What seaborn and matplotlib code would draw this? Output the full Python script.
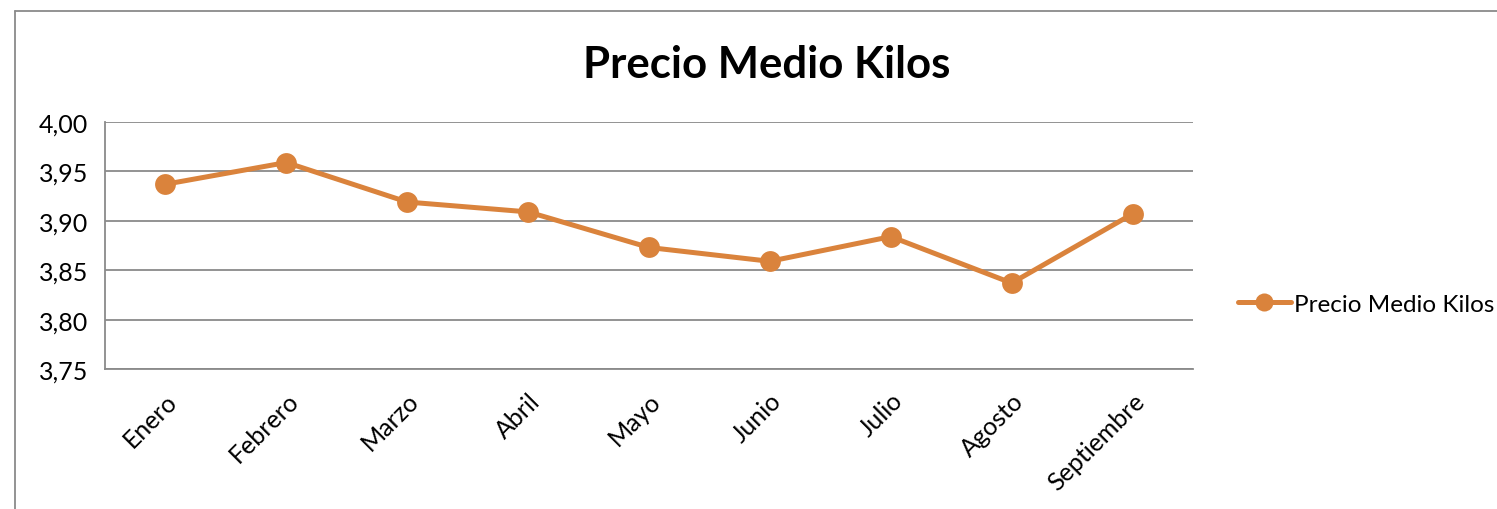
import matplotlib
matplotlib.use("Agg")
import matplotlib.pyplot as plt
from matplotlib.lines import Line2D
import seaborn as sns
import pandas as pd

meses = ["Enero", "Febrero", "Marzo", "Abril", "Mayo", "Junio", "Julio", "Agosto", "Septiembre"]
precio = [3.937, 3.959, 3.919, 3.909, 3.873, 3.859, 3.884, 3.837, 3.907]
yticks = [3.75, 3.80, 3.85, 3.90, 3.95, 4.00]
serie = "Precio Medio Kilos"

df = pd.DataFrame({"mes": meses, "precio": precio})

sns.set_style("white")
plt.rcParams["font.family"] = ["Lato", "DejaVu Sans"]
plt.rcParams["text.color"] = "black"
plt.rcParams["xtick.color"] = "black"
plt.rcParams["ytick.color"] = "black"

naranja = "#DA833C"
gris = "#8A8A8A"
W, H = 1497, 510

fig = plt.figure(figsize=(W / 100, H / 100), dpi=100)
ax = fig.add_axes([105 / W, 1 - 370 / H, (1193 - 105) / W, (370 - 123) / H])

sns.lineplot(data=df, x="mes", y="precio", ax=ax, sort=False, color=naranja,
             linewidth=3.6, marker="o", markersize=15, markeredgewidth=0,
             label=serie, legend=False)

ax.set_xlim(-0.5, len(meses) - 0.5)
ax.set_ylim(3.75, 4.00)
ax.set_yticks(yticks)
ax.set_yticklabels([f"{v:.2f}".replace(".", ",") for v in yticks])
ax.set_xticks(range(len(meses)))
ax.set_xticklabels(meses, rotation=45, ha="right", rotation_mode="anchor")
ax.set_xticks([i - 0.5 for i in range(len(meses) + 1)], minor=True)
ax.tick_params(axis="x", which="major", length=0, pad=14, labelsize=18)
ax.tick_params(axis="x", which="minor", length=8, width=1.3, color=gris, direction="out")
ax.tick_params(axis="y", length=8, width=1.3, color=gris, direction="out", labelsize=18, pad=4)
ax.set_xlabel("")
ax.set_ylabel("")

ax.grid(axis="y", color=gris, linewidth=1.3)
ax.set_axisbelow(True)
for s in ["top", "right"]:
    ax.spines[s].set_visible(False)
for s in ["left", "bottom"]:
    ax.spines[s].set_color(gris)
    ax.spines[s].set_linewidth(1.3)

fig.text(767 / W, 1 - 65 / H, serie, ha="center", va="center",
         fontsize=31.5, fontweight="bold")

handle = Line2D([], [], color=naranja, linewidth=3.6, marker="o", markersize=13,
                markeredgewidth=0)
fig.legend([handle], [serie], loc="center left", bbox_to_anchor=(1228 / W, 1 - 305 / H),
           frameon=False, fontsize=17.5, handlelength=2.2, handletextpad=0.1,
           borderaxespad=0)

# marco del gráfico
fig.add_artist(Line2D([15 / W, 15 / W], [0, 1 - 12 / H], color=gris, linewidth=1.3))
fig.add_artist(Line2D([15 / W, 1], [1 - 12 / H, 1 - 12 / H], color=gris, linewidth=1.3))

fig.savefig("out.png", dpi=100, facecolor="white")
